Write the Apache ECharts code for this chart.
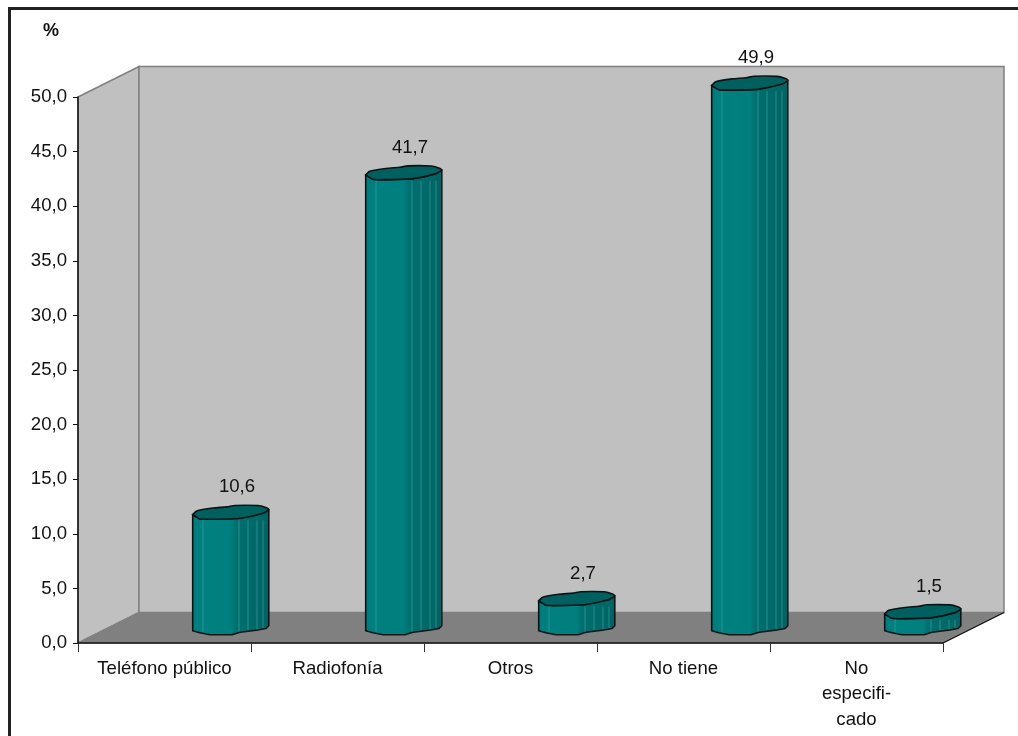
<!DOCTYPE html>
<html><head><meta charset="utf-8">
<style>html,body{margin:0;padding:0;background:#fff}#c{width:1018px;height:736px}</style>
<script src="https://cdn.jsdelivr.net/npm/echarts@6/dist/echarts.min.js"></script>
</head><body><div id="c"></div>
<script>
const categories = ['Teléfono público','Radiofonía','Otros','No tiene','No\nespecifi-\ncado'];
const values = [10.6,41.7,2.7,49.9,1.5];
const yMax = 50, yStep = 5;

const FONT = '"Liberation Sans", Arial, sans-serif';
const FS = 18.6;
const DX = 61, DY = 30.5;            // depth of the 3D box
const BAR_DX = 66.5, BAR_DY = 15;    // bar position relative to the band centre
// Wobbly cylinder outline, relative to the cap centre
const capBack = [[-38.3,2.3],[-34.3,-1.3],[-18,-4.2],[-4,-5.4],[4,-6.8],[27,-6.7],[34,-5],[37.8,-2.7]];
const capFront = [[37.8,-2.7],[32,1],[9,6],[-18,7],[-31,6.7],[-38.3,2.3]];
const baseArc = [[-38.3,2.7],[-31,4.7],[-21,6.7],[1,6.7],[9,4.3],[27,2],[35,0.5],[37.8,-2.3]];
const stripes = [-28,8,17,26,32];

function arcY(x){
  for(let i=1;i<baseArc.length;i++){
    const a=baseArc[i-1],b=baseArc[i];
    if(x<=b[0]) return a[1]+(b[1]-a[1])*(x-a[0])/(b[0]-a[0]);
  }
  return baseArc[baseArc.length-1][1];
}

function renderBox(params, api){
  const c = params.coordSys;
  const xL=c.x, xR=c.x+c.width, yT=c.y, yB=c.y+c.height;
  const wall={fill:'#c0c0c0',stroke:'#808080',lineWidth:1.5};
  return {type:'group',children:[
    {type:'polygon',shape:{points:[[xL,yT],[xL+DX,yT-DY],[xL+DX,yB-DY],[xL,yB]]},style:wall},
    {type:'polygon',shape:{points:[[xL+DX,yT-DY],[xR+DX,yT-DY],[xR+DX,yB-DY],[xL+DX,yB-DY]]},style:wall},
    {type:'polygon',shape:{points:[[xL,yB],[xL+DX,yB-DY],[xR+DX,yB-DY],[xR,yB]]},style:{fill:'#808080',stroke:'#808080',lineWidth:1}},
    {type:'line',shape:{x1:xR,y1:yB,x2:xR+DX,y2:yB-DY},style:{stroke:'#111',lineWidth:1.2}}
  ]};
}

function renderBar(params, api){
  const i=api.value(0), v=api.value(1);
  const top=api.coord([i,v]), base=api.coord([i,0]);
  const cx=top[0]+BAR_DX, yTop=top[1]-BAR_DY, yBase=base[1]-BAR_DY;
  const bodyPts=[...baseArc.map(p=>[cx+p[0],yBase+p[1]]),
    ...capFront.map(p=>[cx+p[0],yTop+p[1]])];
  const capPts=[...capBack,...capFront.slice(1)].map(p=>[cx+p[0],yTop+p[1]]);
  const kids=[
    {type:'polygon',shape:{points:bodyPts},style:{
      fill:new echarts.graphic.LinearGradient(0,0,1,0,[
        {offset:0,color:'#007a7a'},{offset:.12,color:'#008080'},{offset:.5,color:'#007f7f'},
        {offset:.56,color:'#007070'},{offset:1,color:'#006262'}]),
      stroke:'#0a1414',lineWidth:1.6,lineJoin:'round'}}
  ];
  stripes.forEach(s=>{
    const yb=yBase+arcY(s)-1;
    kids.push({type:'line',shape:{x1:cx+s,y1:yTop+8,x2:cx+s,y2:yb},style:{stroke:'#3a9f9f',lineWidth:1,opacity:.65}});
  });
  kids.push({type:'polygon',shape:{points:capPts,smooth:0.2},style:{fill:'#006060',stroke:'#0a1414',lineWidth:1.6}});
  kids.push({type:'text',style:{text:String(v.toFixed(1)).replace('.',','),x:cx+6,y:yTop-25,
    align:'center',verticalAlign:'middle',font:FS+'px '+FONT,fill:'#111'}});
  return {type:'group',children:kids};
}

const chart=echarts.init(document.getElementById('c'),null,{renderer:'canvas'});
chart.setOption({
  animation:false,
  backgroundColor:'#fff',
  title:{text:'%',left:38,top:17,textStyle:{fontFamily:FONT,fontSize:18,fontWeight:'bold',color:'#111'}},
  graphic:[{type:'rect',silent:true,z:100,shape:{x:9.5,y:8.5,width:1200,height:1000},
    style:{fill:'none',stroke:'#222',lineWidth:3}}],
  grid:{left:78,right:75,top:97,bottom:93,containLabel:false},
  xAxis:{type:'category',data:categories,z:5,
    axisLine:{lineStyle:{color:'#111',width:1.5}},
    axisTick:{show:true,alignWithLabel:false,length:9,lineStyle:{color:'#333',width:1}},
    axisLabel:{interval:0,margin:13,fontFamily:FONT,fontSize:FS,color:'#111',lineHeight:25.5,verticalAlign:'top'},
    splitLine:{show:false}},
  yAxis:{type:'value',min:0,max:yMax,interval:yStep,z:5,
    axisLine:{show:true,lineStyle:{color:'#111',width:1.5}},
    axisTick:{show:true,length:5,lineStyle:{color:'#111',width:1}},
    axisLabel:{margin:11,fontFamily:FONT,fontSize:FS,color:'#111',
      formatter:v=>v.toFixed(1).replace('.',',')},
    splitLine:{show:false}},
  series:[
    {type:'custom',name:'caja',z:1,silent:true,clip:false,coordinateSystem:'cartesian2d',renderItem:renderBox,data:[[0,0]]},
    {type:'custom',name:'%',z:2,clip:false,coordinateSystem:'cartesian2d',renderItem:renderBar,
      encode:{x:0,y:1},data:values.map((v,i)=>[i,v])}
  ]
});
</script></body></html>
